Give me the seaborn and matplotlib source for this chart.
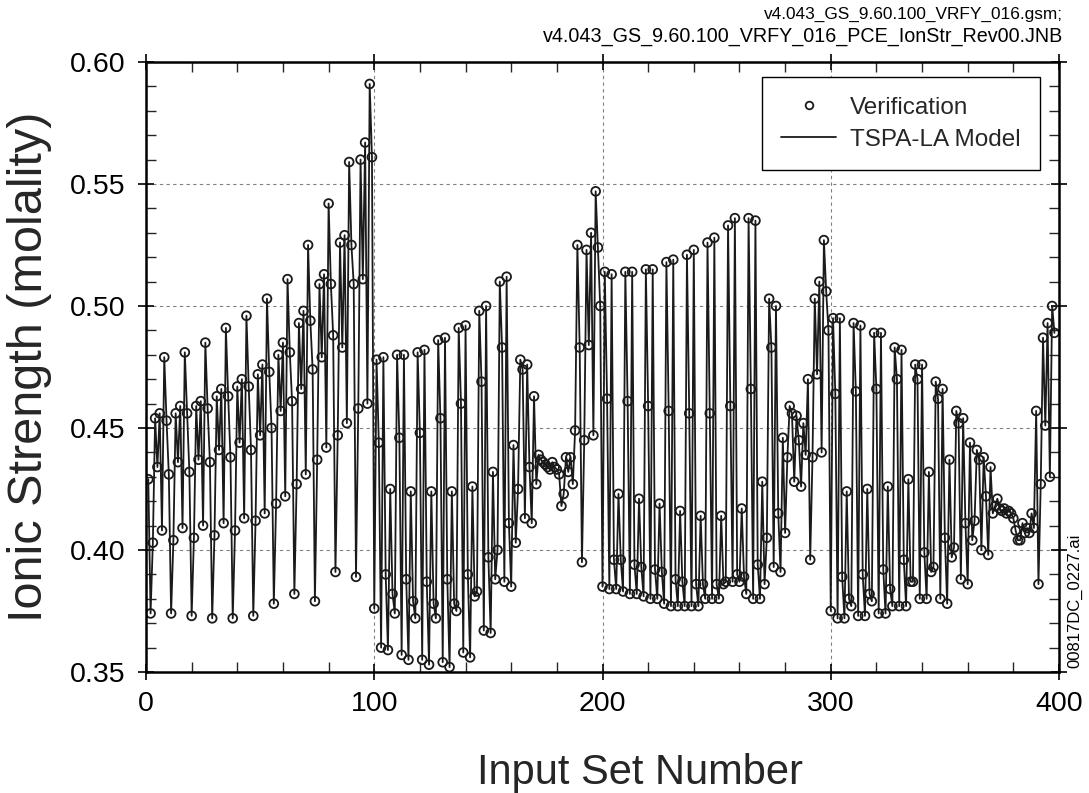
import numpy as np
import pandas as pd
import matplotlib
matplotlib.use("Agg")
import matplotlib.pyplot as plt
import seaborn as sns
from matplotlib.lines import Line2D
from matplotlib.ticker import MultipleLocator, FormatStrFormatter

# Ionic strength (molality), input sets 1..398
block1 = [0.429,
          0.374, 0.403, 0.454, 0.434, 0.456, 0.408, 0.479, 0.453, 0.431,
          0.374, 0.404, 0.456, 0.436, 0.459, 0.409, 0.481, 0.456, 0.432,
          0.373, 0.405, 0.459, 0.437, 0.461, 0.410, 0.485, 0.458, 0.436,
          0.372, 0.406, 0.463, 0.441, 0.466, 0.411, 0.491, 0.463, 0.438,
          0.372, 0.408, 0.467, 0.444, 0.470, 0.413, 0.496, 0.467, 0.441,
          0.373, 0.412, 0.472, 0.447, 0.476, 0.415, 0.503, 0.473, 0.450,
          0.378, 0.419, 0.480, 0.457, 0.485, 0.422, 0.511, 0.481, 0.461,
          0.382, 0.427, 0.493, 0.466, 0.498, 0.431, 0.525, 0.494, 0.474,
          0.379, 0.437, 0.509, 0.479, 0.513, 0.442, 0.542, 0.509, 0.488,
          0.391, 0.447, 0.526, 0.483, 0.529, 0.452, 0.559, 0.525, 0.509,
          0.389, 0.458, 0.560, 0.511, 0.567, 0.460, 0.591, 0.561, 0.376]

block2 = [0.478, 0.444, 0.360, 0.479, 0.390, 0.359, 0.425, 0.382, 0.374,
          0.480, 0.446, 0.357, 0.480, 0.388, 0.355, 0.424, 0.379, 0.372,
          0.481, 0.448, 0.355, 0.482, 0.387, 0.353, 0.424, 0.378, 0.372,
          0.486, 0.454, 0.354, 0.487, 0.388, 0.352, 0.424, 0.378, 0.375,
          0.491, 0.460, 0.358, 0.492, 0.390, 0.356, 0.426, 0.381, 0.383,
          0.498, 0.469, 0.367, 0.500, 0.397, 0.366, 0.432, 0.388, 0.400,
          0.510, 0.483, 0.387, 0.512, 0.411, 0.385, 0.443, 0.403, 0.425,
          0.478, 0.474, 0.413, 0.476, 0.434, 0.411, 0.463, 0.427, 0.439,
          0.437, 0.436, 0.435, 0.434, 0.433, 0.436, 0.434, 0.433, 0.431,
          0.418, 0.423, 0.438, 0.432, 0.438, 0.427, 0.449, 0.525, 0.483,
          0.395, 0.445, 0.523, 0.484, 0.530, 0.447, 0.547, 0.524, 0.500,
          0.385]

block3 = [0.514, 0.462, 0.384, 0.513, 0.396, 0.384, 0.423, 0.396, 0.383,
          0.514, 0.461, 0.382, 0.514, 0.394, 0.382, 0.421, 0.393, 0.381,
          0.515, 0.459, 0.380, 0.515, 0.392, 0.380, 0.419, 0.391, 0.378,
          0.518, 0.457, 0.377, 0.519, 0.388, 0.377, 0.416, 0.387, 0.377,
          0.521, 0.456, 0.377, 0.523, 0.386, 0.377, 0.414, 0.386, 0.380,
          0.526, 0.456, 0.380, 0.528, 0.386, 0.380, 0.414, 0.386, 0.387,
          0.533, 0.459, 0.387, 0.536, 0.390, 0.387, 0.417, 0.389, 0.382,
          0.536, 0.466, 0.380, 0.535, 0.394, 0.380, 0.428, 0.386, 0.405,
          0.503, 0.483, 0.393, 0.500, 0.415, 0.391, 0.446, 0.407, 0.438,
          0.459, 0.456, 0.428, 0.455, 0.445, 0.426, 0.452, 0.439, 0.470,
          0.396, 0.438, 0.503, 0.472, 0.510, 0.440, 0.527, 0.506, 0.490,
          0.375]

block4 = [0.495, 0.464, 0.372, 0.495, 0.389, 0.372, 0.424, 0.380, 0.377,
          0.493, 0.465, 0.373, 0.492, 0.390, 0.373, 0.425, 0.382, 0.379,
          0.489, 0.466, 0.374, 0.489, 0.392, 0.374, 0.426, 0.384, 0.377,
          0.483, 0.470, 0.377, 0.482, 0.396, 0.377, 0.429, 0.387, 0.387,
          0.476, 0.470, 0.380, 0.476, 0.399, 0.380, 0.432, 0.391, 0.393,
          0.469, 0.462, 0.380, 0.466, 0.405, 0.378, 0.437, 0.397, 0.401,
          0.457, 0.452, 0.388, 0.454, 0.411, 0.386, 0.444, 0.404, 0.412,
          0.441, 0.437, 0.400, 0.438, 0.422, 0.398, 0.434, 0.415, 0.418,
          0.421, 0.417, 0.416, 0.417, 0.415, 0.416, 0.415, 0.413, 0.408,
          0.404, 0.404, 0.411, 0.407, 0.409, 0.407, 0.415, 0.409, 0.457,
          0.386, 0.427, 0.487, 0.451, 0.493, 0.430, 0.500, 0.489]

ionic_strength = block1 + block2 + block3 + block4
input_set = np.arange(1, len(ionic_strength) + 1)

x_ticks = [0, 100, 200, 300, 400]
y_ticks = [0.35, 0.40, 0.45, 0.50, 0.55, 0.60]

df = pd.DataFrame({"Input Set Number": input_set, "Ionic Strength": ionic_strength})

sns.set_theme(style="white")
plt.rcParams["font.family"] = ["Liberation Sans", "DejaVu Sans"]

ink = "#1a1a1a"
fig = plt.figure(figsize=(10.89, 7.93), dpi=100)
ax = fig.add_axes([146 / 1089, 1 - 672 / 793, 913 / 1089, 610 / 793])

sns.lineplot(data=df, x="Input Set Number", y="Ionic Strength", ax=ax,
             color=ink, linewidth=1.3, sort=False, estimator=None, zorder=3)
sns.scatterplot(data=df, x="Input Set Number", y="Ionic Strength", ax=ax,
                marker="o", s=40, facecolor="none", edgecolor=ink,
                linewidth=1.3, zorder=4)

ax.set_xlim(0, 400)
ax.set_ylim(0.35, 0.60)
ax.set_xticks(x_ticks)
ax.set_yticks(y_ticks)
ax.xaxis.set_minor_locator(MultipleLocator(20))
ax.yaxis.set_minor_locator(MultipleLocator(0.01))
ax.yaxis.set_major_formatter(FormatStrFormatter("%.2f"))

ax.grid(True, which="major", linestyle=(0, (3, 3)), color="#808080", linewidth=0.8, zorder=1)
for s in ax.spines.values():
    s.set_color("black")
    s.set_linewidth(1.8)
    s.set_zorder(5)

ax.tick_params(which="major", direction="inout", length=12, width=1.2,
               top=True, right=True, bottom=True, left=True, labelsize=20.5, colors="black")
ax.tick_params(which="minor", direction="in", length=7, width=1.0,
               top=True, right=True, bottom=True, left=True)
ax.tick_params(axis="y", which="major", pad=9)
ax.tick_params(axis="x", which="major", pad=8)

ax.set_xlabel("Input Set Number", fontsize=30)
ax.set_ylabel("Ionic Strength (molality)", fontsize=35)
# label centres in figure pixels: x label (640, 773), y label (30, 367)
ax.xaxis.set_label_coords((640 - 146) / 913, -(773 - 672) / 610)
ax.xaxis.label.set_va("center")
ax.yaxis.set_label_coords(-(146 - 30) / 913, 1 - (367 - 62) / 610)
ax.yaxis.label.set_va("center")

handles = [
    Line2D([], [], marker="o", linestyle="none", markerfacecolor="none",
           markeredgecolor=ink, markersize=5.5, markeredgewidth=1.3),
    Line2D([], [], color=ink, linewidth=1.3),
]
leg = ax.legend(handles, ["Verification", "TSPA-LA Model"], loc="upper right",
                bbox_to_anchor=(0.979, 0.975), fontsize=17.5, frameon=True,
                fancybox=False, edgecolor="black", framealpha=1,
                handlelength=2.26, handletextpad=0.55, borderpad=0.8,
                labelspacing=0.42, borderaxespad=0)
leg.get_frame().set_linewidth(1.0)
leg.set_zorder(6)

fig.text(1063 / 1089, 1 - 14 / 793, "v4.043_GS_9.60.100_VRFY_016.gsm;",
         ha="right", va="center", fontsize=12.4, color="black")
fig.text(1063 / 1089, 1 - 37 / 793, "v4.043_GS_9.60.100_VRFY_016_PCE_IonStr_Rev00.JNB",
         ha="right", va="center", fontsize=14.2, color="black")
fig.text(1075 / 1089, 1 - 601 / 793, "00817DC_0227.ai", rotation=90,
         ha="center", va="center", fontsize=12, color="black")

fig.savefig("out.png", dpi=100)
